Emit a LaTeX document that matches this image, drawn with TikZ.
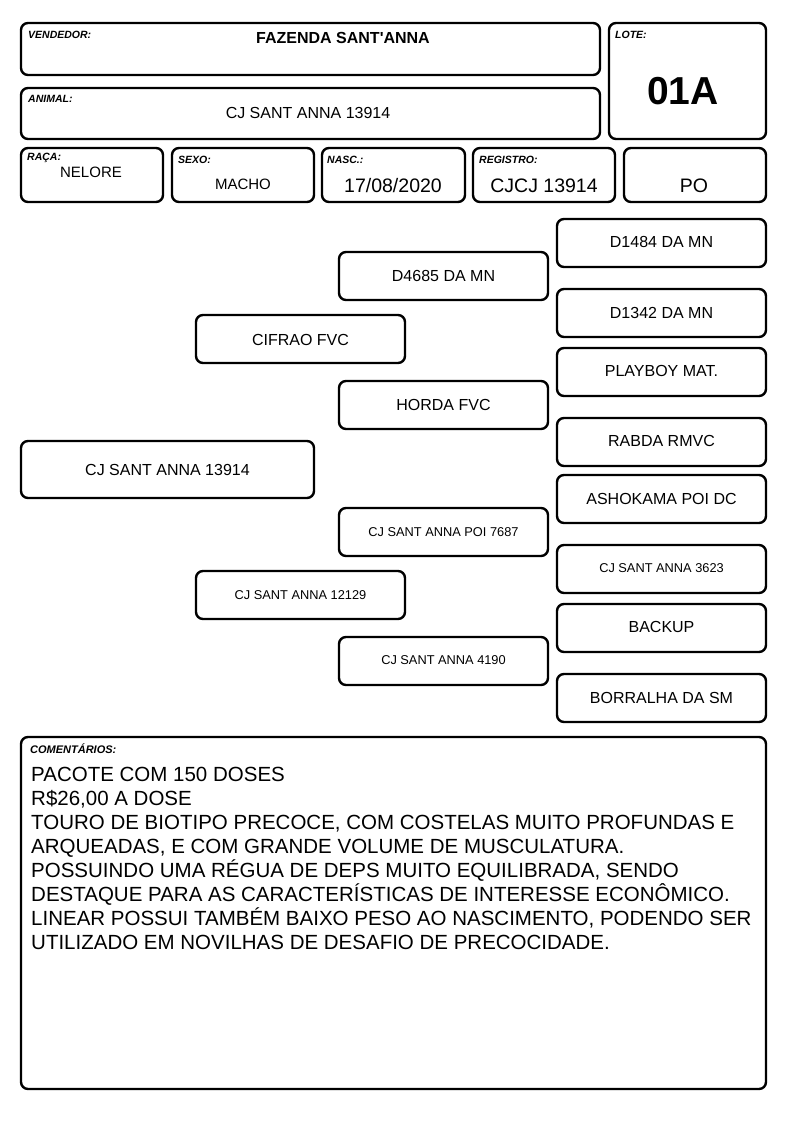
\documentclass[tikz,border=0pt]{standalone}
\usepackage{fontspec}
\setmainfont{Liberation Sans}
\begin{document}
\begin{tikzpicture}[x=1pt,y=-1pt,
  box/.style={draw=black,line width=2.4pt,rounded corners=7pt},
  lbl/.style={anchor=west,inner sep=0pt,font=\fontsize{10.5}{12}\selectfont\bfseries\itshape},
  val/.style={inner sep=0pt,font=\fontsize{15}{17}\selectfont},
  big/.style={inner sep=0pt,font=\fontsize{19.5}{21}\selectfont},
  ped/.style={inner sep=0pt,font=\fontsize{16}{18}\selectfont},
  peds/.style={inner sep=0pt,font=\fontsize{12.8}{14}\selectfont}]
\useasboundingbox (0,0) rectangle (794,1123);
% header boxes
\draw[box] (21,23) rectangle (600,75);
\draw[box] (609,23) rectangle (766,139);
\draw[box] (21,88) rectangle (600,139);
\draw[box] (21,148) rectangle (163,202);
\draw[box] (172,148) rectangle (314,202);
\draw[box] (322,148) rectangle (465,202);
\draw[box] (473,148) rectangle (615,202);
\draw[box] (624,148) rectangle (766,202);
\node[lbl] (lv) at (28,35) {VENDEDOR:};
\node[val,font=\fontsize{16}{18}\selectfont\bfseries] (vv) at (343,38) {FAZENDA SANT\textquotesingle ANNA};
\node[lbl] (ll) at (615,35) {LOTE:};
\node[inner sep=0pt,font=\fontsize{39}{41}\selectfont\bfseries] (lt) at (683,91) {01A};
\node[lbl] (la) at (28,99) {ANIMAL:};
\node[val,font=\fontsize{16}{18}\selectfont] (av) at (308,113) {CJ SANT ANNA 13914};
\node[lbl] (lr) at (27,158) {RAÇA:};
\node[val] (rv) at (91,172) {NELORE};
\node[lbl] (ls) at (178,160) {SEXO:};
\node[val] (sv) at (243,184) {MACHO};
\node[lbl] (ln) at (327,160) {NASC.:};
\node[big] (nv) at (393,186) {17/08/2020};
\node[lbl] (lg) at (479,160) {REGISTRO:};
\node[big] (gv) at (544,186) {CJCJ 13914};
\node[big] (pv) at (694,186) {PO};
% pedigree
\draw[box] (21,441) rectangle (314,498);
\node[ped] (p0) at (167.5,470) {CJ SANT ANNA 13914};
\draw[box] (196,315) rectangle (405,363);
\node[ped] (p1) at (300.5,340) {CIFRAO FVC};
\draw[box] (196,571) rectangle (405,619);
\node[peds] (p2) at (300.5,595) {CJ SANT ANNA 12129};
\draw[box] (339,252) rectangle (548,300);
\node[ped] (p3) at (443.5,276) {D4685 DA MN};
\draw[box] (339,381) rectangle (548,429);
\node[ped] (p4) at (443.5,405) {HORDA FVC};
\draw[box] (339,508) rectangle (548,556);
\node[peds] (p5) at (443.5,532) {CJ SANT ANNA POI 7687};
\draw[box] (339,637) rectangle (548,685);
\node[peds] (p6) at (443.5,660) {CJ SANT ANNA 4190};
\draw[box] (557,219) rectangle (766,267);
\node[ped] (q1) at (661.5,242) {D1484 DA MN};
\draw[box] (557,289) rectangle (766,337);
\node[ped] (q2) at (661.5,313) {D1342 DA MN};
\draw[box] (557,348) rectangle (766,396);
\node[ped] (q3) at (661.5,371) {PLAYBOY MAT.};
\draw[box] (557,418) rectangle (766,466);
\node[ped] (q4) at (661.5,441) {RABDA RMVC};
\draw[box] (557,475) rectangle (766,523);
\node[ped] (q5) at (661.5,499) {ASHOKAMA POI DC};
\draw[box] (557,545) rectangle (766,593);
\node[peds] (q6) at (661.5,568) {CJ SANT ANNA 3623};
\draw[box] (557,604) rectangle (766,652);
\node[ped] (q7) at (661.5,627) {BACKUP};
\draw[box] (557,674) rectangle (766,722);
\node[ped] (q8) at (661.5,698) {BORRALHA DA SM};
% comments
\draw[box] (21,737) rectangle (766,1089);
\node[lbl,font=\fontsize{11}{12}\selectfont\bfseries\itshape] (lc) at (30,749) {COMENTÁRIOS:};
\node[anchor=north west,inner sep=0pt,align=left,font=\fontsize{20.5}{24}\selectfont] (ct) at (31,767) {PACOTE COM 150 DOSES\\
R\$26,00 A DOSE\\
TOURO DE BIOTIPO PRECOCE, COM COSTELAS MUITO PROFUNDAS E\\
ARQUEADAS, E COM GRANDE VOLUME DE MUSCULATURA.\\
POSSUINDO UMA RÉGUA DE DEPS MUITO EQUILIBRADA, SENDO\\
DESTAQUE PARA AS CARACTERÍSTICAS DE INTERESSE ECONÔMICO.\\
LINEAR POSSUI TAMBÉM BAIXO PESO AO NASCIMENTO, PODENDO SER\\
UTILIZADO EM NOVILHAS DE DESAFIO DE PRECOCIDADE.};
\end{tikzpicture}
\end{document}
